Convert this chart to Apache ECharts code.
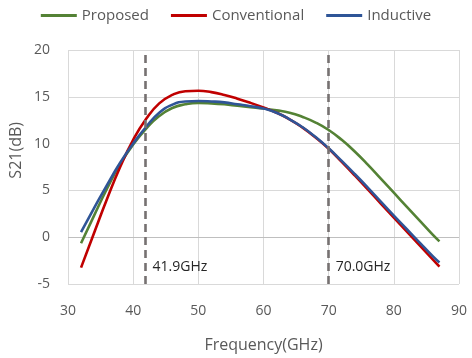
<!DOCTYPE html>
<html><head><meta charset="utf-8">
<script src="https://cdn.jsdelivr.net/npm/echarts@6/dist/echarts.min.js"></script>
<style>html,body{margin:0;padding:0;background:#fff}#c{width:472px;height:358px}</style>
</head><body><div id="c"></div>
<script>
const freq = [32,34,36,38,40,42,44,46,48,50,52,54,56,58,60,62,64,66,68,70,72,74,76,78,80,82,84,86,87];
const proposed = [-0.65,2.3,5.2,7.8,9.9,11.6,12.95,13.8,14.2,14.35,14.3,14.2,14.05,13.9,13.75,13.55,13.3,12.85,12.25,11.45,10.4,9.15,7.75,6.25,4.75,3.25,1.75,0.25,-0.45];
const conventional = [-3.25,0.45,4.1,7.5,10.4,12.65,14.3,15.2,15.6,15.65,15.5,15.2,14.8,14.35,13.85,13.3,12.6,11.7,10.65,9.45,8.05,6.6,5.1,3.6,2.1,0.6,-0.9,-2.4,-3.15];
const inductive = [0.55,3.1,5.6,7.95,10.0,11.8,13.3,14.15,14.5,14.55,14.5,14.4,14.2,14.0,13.75,13.3,12.6,11.75,10.7,9.5,8.15,6.75,5.3,3.8,2.3,0.85,-0.6,-2.05,-2.7];
const seriesNames = ['Proposed','Conventional','Inductive'];
const markers = [41.9, 70.0];
const markerLabels = ['41.9GHz','70.0GHz'];
const xTicks = {min:30, max:90, interval:10};
const yTicks = {min:-5, max:20, interval:5};

const FONT = '"Open Sans", "Noto Sans", sans-serif';
const colors = ['#548235','#c00000','#2f5597'];
const pairs = v => freq.map((f,i)=>[f,v[i]]);
const chart = echarts.init(document.getElementById('c'), null, {renderer:'canvas'});
const mk = (name, vals, color, extra) => Object.assign({
  name, type:'line', data: pairs(vals), smooth:0.5, showSymbol:false, symbol:'none',
  lineStyle:{color, width:2.6}, itemStyle:{color}, z:3
}, extra||{});
chart.setOption({
  animation:false,
  textStyle:{fontFamily:FONT},
  legend:{top:3, left:'center', icon:'rect', itemWidth:36, itemHeight:3, itemGap:22,
    textStyle:{fontSize:15, color:'#595959', fontFamily:FONT}, data:seriesNames},
  grid:{left:68, right:13, top:50, bottom:69},
  xAxis:{type:'value', min:xTicks.min, max:xTicks.max, interval:xTicks.interval,
    name:'Frequency(GHz)', nameLocation:'middle', nameGap:53,
    nameTextStyle:{fontSize:16, color:'#595959', fontFamily:FONT},
    axisLine:{show:false}, axisTick:{show:false},
    axisLabel:{fontSize:14, color:'#595959', margin:20, fontFamily:FONT},
    splitLine:{show:true, lineStyle:{color:'#d9d9d9', width:1}}},
  yAxis:{type:'value', min:yTicks.min, max:yTicks.max, interval:yTicks.interval,
    axisLine:{show:false}, axisTick:{show:false},
    axisLabel:{fontSize:14, color:'#595959', margin:18, fontFamily:FONT},
    splitLine:{show:true, lineStyle:{color:'#d9d9d9', width:1}}},
  graphic:[{type:'text', left:8, top:122, rotation:Math.PI/2,
    style:{text:'S21(dB)', fontSize:16, fill:'#595959', fontFamily:FONT}}],
  series:[
    mk(seriesNames[0], proposed, colors[0], {
      markLine:{silent:true, symbol:'none', label:{show:false}, animation:false,
        lineStyle:{color:'#767171', width:2.6, type:[8,5]},
        emphasis:{disabled:true},
        data: markers.map(m=>({xAxis:m}))},
      markPoint:{silent:true, symbol:'circle', symbolSize:0,
        label:{show:true, position:'right', distance:7, fontSize:14, color:'#262626', fontFamily:FONT,
          formatter: p => p.name},
        data: markers.map((m,i)=>({name:markerLabels[i], coord:[m,-3.2]}))}
    }),
    mk(seriesNames[1], conventional, colors[1], {
      markLine:{silent:true, symbol:'none', label:{show:false}, animation:false,
        lineStyle:{color:'#bfbfbf', width:1, type:'solid'}, z:1,
        emphasis:{disabled:true},
        data:[{yAxis:0}]}
    }),
    mk(seriesNames[2], inductive, colors[2])
  ]
});
</script></body></html>
